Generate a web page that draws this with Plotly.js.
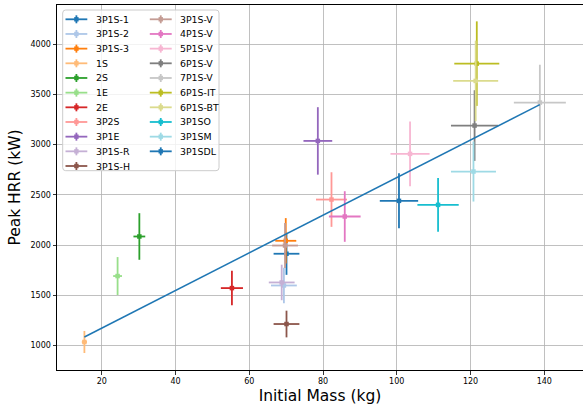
<!DOCTYPE html>
<html>
<head>
<meta charset="utf-8">
<script src="https://cdn.plot.ly/plotly-3.0.1.min.js"></script>
<style>html,body{margin:0;padding:0;background:#fff;overflow:hidden}#chart{width:583px;height:408px}</style>
</head>
<body>
<div id="chart"></div>
<script>
// ---- data ----
const names = ['3P1S-1','3P1S-2','3P1S-3','1S','2S','1E','2E','3P2S','3P1E','3P1S-R','3P1S-H',
               '3P1S-V','4P1S-V','5P1S-V','6P1S-V','7P1S-V','6P1S-IT','6P1S-BT','3P1SO','3P1SM','3P1SDL'];
const mass    = [70.1, 69.4, 69.9, 15.3, 30.2, 24.3, 55.3, 82.3, 78.6, 68.8, 70.1,
                 69.7, 85.9, 103.6, 121.1, 138.8, 121.7, 121.4, 111.2, 120.8, 100.6];
const massErr = [3.5, 3.5, 2.85, 0.7, 1.6, 1.2, 3.0, 4.2, 3.9, 3.5, 3.5,
                 3.5, 4.3, 5.3, 6.4, 7.05, 6.1, 6.1, 5.6, 6.1, 5.2];
const hrr     = [1913, 1597, 2042, 1034, 2085, 1691, 1571, 2453, 3037, 1627, 1213,
                 1995, 2284, 2908, 3190, 3419, 3807, 3635, 2400, 2732, 2440];
const hrrErr  = [210, 177, 226, 110, 232, 189, 172, 272, 336, 177, 133,
                 224, 252, 322, 352, 377, 421, 401, 267, 299, 274];
const colors  = ['#1f77b4','#aec7e8','#ff7f0e','#ffbb78','#2ca02c','#98df8a','#d62728','#ff9896','#9467bd','#c5b0d5','#8c564b',
                 '#c49c94','#e377c2','#f7b6d2','#7f7f7f','#c7c7c7','#bcbd22','#dbdb8d','#17becf','#9edae5','#1f77b4'];
const fitMass = [15.3, 138.8];
const fitHrr  = [1084, 3399];
const xTicks = [20, 40, 60, 80, 100, 120, 140];
const yTicks = [1000, 1500, 2000, 2500, 3000, 3500, 4000];

// ---- traces ----
const traces = names.map((n, i) => ({
  type: 'scatter', mode: 'markers', name: n, showlegend: false,
  x: [mass[i]], y: [hrr[i]],
  marker: {symbol: 'square', size: 4.5, color: colors[i], line: {width: 0}},
  error_x: {type: 'data', array: [massErr[i]], color: colors[i], thickness: 1.8, width: 0},
  error_y: {type: 'data', array: [hrrErr[i]], color: colors[i], thickness: 1.8, width: 0}
}));
traces.push({type: 'scatter', mode: 'lines', x: fitMass, y: fitHrr, showlegend: false,
  line: {color: '#1f77b4', width: 1.5}});

// ---- geometry helpers (pixel -> paper) ----
const W = 583, H = 408, ML = 57, MR = 0, MT = 5, MB = 38;
const PW = W - ML - MR, PH = H - MT - MB;
const px = v => (v - ML) / PW;
const py = v => (H - MB - v) / PH;

// ---- manual matplotlib-style legend ----
const shapes = [];
const annotations = [];
const bx0 = 62.7, bx1 = 219, by0 = 10, by1 = 170.7, r = 3;
const rx = r / PW, ry = r / PH;
const X0 = px(bx0), X1 = px(bx1), Y0 = py(by0), Y1 = py(by1);
shapes.push({type: 'path', xref: 'paper', yref: 'paper', layer: 'above',
  path: `M${X0 + rx},${Y0} L${X1 - rx},${Y0} Q${X1},${Y0} ${X1},${Y0 - ry} L${X1},${Y1 + ry} Q${X1},${Y1} ${X1 - rx},${Y1} L${X0 + rx},${Y1} Q${X0},${Y1} ${X0},${Y1 + ry} L${X0},${Y0 - ry} Q${X0},${Y0} ${X0 + rx},${Y0} Z`,
  fillcolor: 'rgba(255,255,255,0.8)', line: {color: '#cccccc', width: 1}});
const colHandle = [[65.5, 87.3], [149.8, 171.7]];
const colText = [95.2, 178.8];
names.forEach((n, i) => {
  const col = i < 11 ? 0 : 1;
  const row = i < 11 ? i : i - 11;
  const yc = 19.3 + row * 14.67;
  const [h0, h1] = colHandle[col];
  const hc = (h0 + h1) / 2;
  shapes.push({type: 'line', xref: 'paper', yref: 'paper', layer: 'above',
    x0: px(h0), x1: px(h1), y0: py(yc), y1: py(yc), line: {color: colors[i], width: 1.8}});
  shapes.push({type: 'line', xref: 'paper', yref: 'paper', layer: 'above',
    x0: px(hc), x1: px(hc), y0: py(yc - 4), y1: py(yc + 4), line: {color: colors[i], width: 1.8}});
  shapes.push({type: 'rect', xref: 'paper', yref: 'paper', layer: 'above',
    x0: px(hc - 2.2), x1: px(hc + 2.2), y0: py(yc - 2.2), y1: py(yc + 2.2),
    fillcolor: colors[i], line: {width: 0}});
  annotations.push({xref: 'paper', yref: 'paper', x: px(colText[col]), y: py(yc),
    xanchor: 'left', yanchor: 'middle', text: n, showarrow: false, borderpad: 0,
    font: {family: 'DejaVu Sans', size: 9.4, color: '#000'}});
});

const layout = {
  width: W, height: H,
  margin: {l: ML, r: MR, t: MT, b: MB, pad: 0},
  paper_bgcolor: '#fff', plot_bgcolor: '#fff',
  font: {family: 'DejaVu Sans', color: '#000'},
  showlegend: false,
  xaxis: {range: [7.87, 150.5], tickvals: xTicks, ticktext: xTicks.map(String),
    ticks: 'outside', ticklen: 3.5, tickwidth: 0.8, tickcolor: '#000',
    showline: true, linecolor: '#000', linewidth: 1, mirror: true,
    showgrid: true, gridcolor: '#b0b0b0', gridwidth: 0.8, zeroline: false,
    tickfont: {family: 'DejaVu Sans', size: 8, color: '#000'},
    automargin: false,
    title: {text: 'Initial Mass (kg)', font: {family: 'DejaVu Sans', size: 15.5, color: '#000'}, standoff: 5}},
  yaxis: {range: [755, 4391], tickvals: yTicks, ticktext: yTicks.map(String),
    ticks: 'outside', ticklen: 3.5, tickwidth: 0.8, tickcolor: '#000',
    showline: true, linecolor: '#000', linewidth: 1, mirror: false,
    showgrid: true, gridcolor: '#b0b0b0', gridwidth: 0.8, zeroline: false,
    tickfont: {family: 'DejaVu Sans', size: 8, color: '#000'},
    automargin: false,
    title: {text: 'Peak HRR (kW)', font: {family: 'DejaVu Sans', size: 15.5, color: '#000'}, standoff: 6}},
  shapes: shapes,
  annotations: annotations
};

Plotly.newPlot('chart', traces, layout, {staticPlot: true, displayModeBar: false});
</script>
</body>
</html>
